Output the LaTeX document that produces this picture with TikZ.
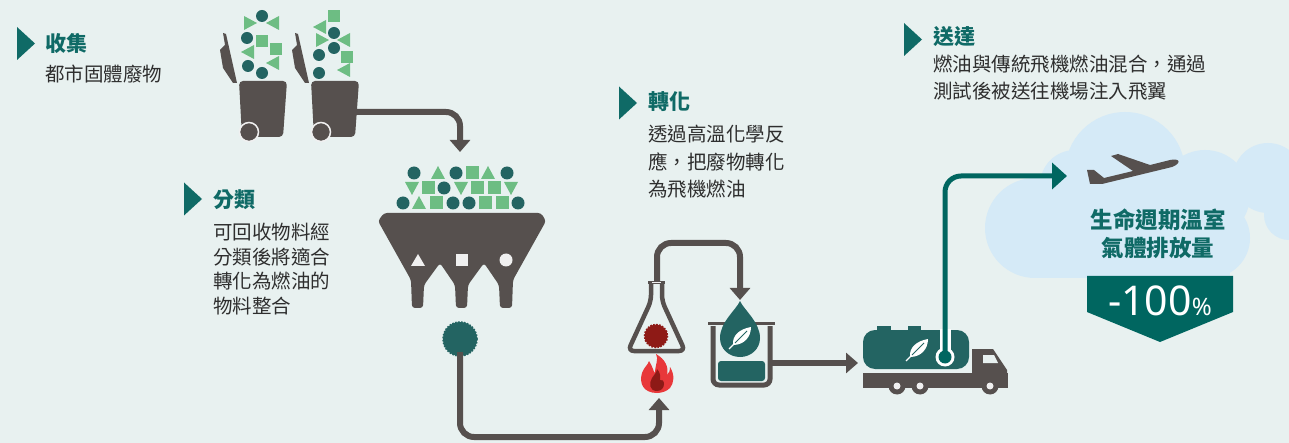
\documentclass[tikz,border=0pt]{standalone}
\usepackage{fontspec}
\setmainfont{Noto Sans CJK TC}
\newfontfamily\numfont{Noto Sans}
\usetikzlibrary{arrows.meta}

\definecolor{bgmint}{HTML}{E8F1F0}
\definecolor{titleteal}{HTML}{0F6A66}
\definecolor{dotteal}{HTML}{236462}
\definecolor{deepteal}{HTML}{006660}
\definecolor{leafgreen}{HTML}{6DBD83}
\definecolor{stonegrey}{HTML}{56504E}
\definecolor{inkgrey}{HTML}{2E2E2E}
\definecolor{flamered}{HTML}{E8383A}
\definecolor{emberred}{HTML}{8E1A16}
\definecolor{skyblue}{HTML}{D5EAF7}
\definecolor{chalk}{HTML}{F0F0F0}

% bumpy disc: colour, centre, radius
\newcommand\pellet[3]{%
  \fill[#1] #2 circle (#3);
  \draw[#1, line width=1.6pt, dash pattern=on 1.6pt off 1.4pt] #2 circle (#3);}

\tikzset{
  pipe/.style={draw=stonegrey, line width=6pt, rounded corners=14pt,
    -{Triangle[width=20pt,length=12pt]}},
  feed/.style={draw=deepteal, line width=5pt, rounded corners=16pt,
    -{Triangle[width=26pt,length=15pt]}},
  headline/.style={anchor=west, inner sep=0pt, text=titleteal,
    font=\fontsize{21}{25}\selectfont\bfseries},
  blurb/.style={anchor=north west, inner sep=0pt, align=left, text=inkgrey,
    font=\fontsize{19.5}{24.5}\selectfont},
  pointer/.pic={\fill[titleteal] (0,-16.5) -- (18,0) -- (0,16.5) -- cycle;},
  bin/.pic={
    \fill[stonegrey, rounded corners=4pt] (0,0) -- (48,0) -- (44,56) -- (3,56) -- cycle;
    \fill[stonegrey] (-16,-48) -- (-13,-47) -- (-2,2) -- (-6,2) -- (-16,-13)
      -- (-19,-31) -- (-14,-36) -- cycle;
    \fill[stonegrey] (10,51) circle (9);
    \draw[chalk, line width=1.5pt] (10,51) circle (9.5);},
  leaf/.pic={
    \fill[white] (-8,8) .. controls (-9,-2) and (-1,-8) .. (10,-10)
      .. controls (10,0) and (3,8) .. (-8,8) -- cycle;
    \draw[white, line width=1.2pt] (-12,12) -- (-6,6);
    \draw[dotteal, line width=1pt] (-6,6) -- (6,-6);},
  flame/.pic={
    \fill[flamered] (0,18) .. controls (-14,18) and (-18,8) .. (-15,-2)
      .. controls (-13,-8) and (-9,-10) .. (-8,-14)
      .. controls (-4,-8) and (-4,-4) .. (-2,-2)
      .. controls (-2,-10) and (2,-16) .. (-1,-21)
      .. controls (8,-16) and (12,-8) .. (10,0)
      .. controls (12,-2) and (13,-4) .. (13,-8)
      .. controls (18,0) and (17,8) .. (13,13)
      .. controls (10,16) and (5,18) .. (0,18) -- cycle;
    \fill[emberred] (0,16) .. controls (-8,16) and (-8,8) .. (-5,3)
      .. controls (-3,0) and (0,-3) .. (0,-6)
      .. controls (4,-2) and (3,2) .. (3,5)
      .. controls (5,4) and (7,6) .. (7,9)
      .. controls (7,13) and (4,16) .. (0,16) -- cycle;}
}

\begin{document}
\begin{tikzpicture}[x=1pt, y=-1pt]
\fill[bgmint] (0,0) rectangle (1289,443);
\useasboundingbox (0,0) rectangle (1289,443);

% headings
\pic at (17,43.5) {pointer};
\node[headline] (collect) at (45,43) {收集};
\node[blurb] (collectnote) at (45,65) {都市固體廢物};
\pic at (184,199) {pointer};
\node[headline] (sort) at (213,200) {分類};
\node[blurb] (sortnote) at (213,223) {可回收物料經\\分類後將適合\\轉化為燃油的\\物料整合};
\pic at (619,103) {pointer};
\node[headline] (convert) at (648,102) {轉化};
\node[blurb, font=\fontsize{19.5}{27.5}\selectfont] (convertnote) at (648,125)
  {透過高溫化學反\\應，把廢物轉化\\為飛機燃油};
\pic at (904,39.5) {pointer};
\node[headline] (deliver) at (933,37) {送達};
\node[blurb, font=\fontsize{19.5}{27}\selectfont] (delivernote) at (933,55)
  {燃油與傳統飛機燃油混合，通過\\測試後被送往機場注入飛翼};

% bins
\pic at (239,81) {bin};
\pic at (311,81) {bin};
\foreach \x/\y in {262/16,247/38,248/66,262/73,334/33,334/48,319/55,319/73}
  \fill[dotteal] (\x,\y) circle (6);
\foreach \x/\y in {262/41,276/49,334/16,347/57}
  \fill[leafgreen] (\x-6,\y-6) rectangle (\x+6,\y+6);
\foreach \x/\y in {273/23,248/52,273/63,320/27,344/40,344/70}
  \fill[leafgreen] (\x-7,\y) -- (\x+6,\y-7) -- (\x+6,\y+7) -- cycle;
\foreach \x/\y in {250/23,322/40}
  \fill[leafgreen] (\x+7,\y) -- (\x-6,\y-7) -- (\x-6,\y+7) -- cycle;

% hopper with its pile
\foreach \x/\y in {414/173,456/173,507/173,444/188,403/203,453/203,469/203,518/203}
  \fill[dotteal] (\x,\y) circle (6.5);
\foreach \x/\y in {472/173,428/188,477/188,494/188,436/203,485/203,502/203}
  \fill[leafgreen] (\x-6.5,\y-6.5) rectangle (\x+6.5,\y+6.5);
\foreach \x/\y in {438/173,488/173,419/203}
  \fill[leafgreen] (\x,\y-7) -- (\x+7,\y+6) -- (\x-7,\y+6) -- cycle;
\foreach \x/\y in {412/188,461/188,511/188}
  \fill[leafgreen] (\x,\y+7) -- (\x+7,\y-6) -- (\x-7,\y-6) -- cycle;
\fill[stonegrey, rounded corners=3pt] (384,213) -- (541,213) -- (546,221) -- (513,280)
  -- (512,308) -- (500,308) -- (499,285) -- (484,263) -- (468,285) -- (467,308)
  -- (456,308) -- (455,285) -- (440,263) -- (424,285) -- (423,308) -- (412,308)
  -- (411,280) -- (378,221) -- cycle;
\fill[chalk] (418,254) -- (425,266) -- (411,266) -- cycle;
\fill[chalk] (456,254) rectangle (468,266);
\fill[chalk] (506,260) circle (6.5);

\pellet{dotteal}{(460,339)}{17}

% reactor flask and burner
\draw[stonegrey, line width=4.5pt, rounded corners=6pt] (651,284) -- (651,301)
  -- (628,351) -- (685,351) -- (662,301) -- (662,284);
\draw[stonegrey, line width=3pt] (648,283) -- (665,283);
\draw[chalk, line width=1pt] (652,283) -- (661,283);
\pellet{emberred}{(656,336)}{11.5}
\pic at (657,375) {flame};

% beaker with drop
\draw[stonegrey, line width=5pt, rounded corners=6pt] (713,326) -- (713,385)
  -- (770,385) -- (770,326);
\draw[stonegrey, line width=3pt] (708,323) -- (775,323);
\fill[dotteal, rounded corners=3pt] (718,361) rectangle (765,381);
\fill[dotteal] (740,301) .. controls (744,310) and (760,322) .. (760,338)
  .. controls (760,349) and (751,357) .. (740,357)
  .. controls (729,357) and (720,349) .. (720,338)
  .. controls (720,322) and (736,310) .. (740,301) -- cycle;
\pic at (741,337) {leaf};

% tanker truck
\fill[dotteal] (877,326) rectangle (891,332);
\fill[dotteal] (908,326) rectangle (921,332);
\fill[dotteal, rounded corners=12pt] (863,330) rectangle (969,369);
\pic at (918,349) {leaf};
\fill[stonegrey] (863,373) rectangle (1008,388);
\fill[stonegrey] (972,349) -- (993,349) -- (1007,370) -- (1007,375) -- (972,375) -- cycle;
\fill[bgmint] (983,355) -- (994,355) -- (998,363) -- (983,363) -- cycle;
\foreach \x in {897,920,990} {
  \fill[stonegrey] (\x,386) circle (8.5);
  \fill[chalk] (\x,386) circle (3.5);
}
\fill[white] (939.5,329) rectangle (950.5,357);
\fill[white] (945,357) circle (9.5);
\fill[deepteal] (945,357) circle (6.5);

% cloud, plane and result
\fill[skyblue] (1035,228) circle (50) (1125,172) circle (60) (1075,185) circle (35)
  (1205,195) circle (45) (1268,178) circle (35) (1150,235) circle (44)
  (1210,238) circle (40) (1289,215) circle (25);
\fill[skyblue] (1035,200) rectangle (1230,278);
\fill[stonegrey] (1087,170) -- (1094,170) -- (1104,178) -- (1133,171) -- (1111,156)
  -- (1118,154) -- (1150,165) -- (1170,160) .. controls (1180,158) and (1182,163) .. (1172,167)
  -- (1102,184) -- (1090,184) -- cycle;
\node[inner sep=0pt, align=center, text=titleteal,
  font=\fontsize{22.5}{28}\selectfont\bfseries] (ghg) at (1158,234)
  {生命週期溫室\\氣體排放量};
\fill[deepteal] (1087,276) -- (1233,276) -- (1233,312) -- (1160,342) -- (1087,312) -- cycle;
\node[inner sep=0pt, text=white] (cut) at (1160,301)
  {\numfont\fontsize{41}{41}\selectfont -100{\fontsize{24}{24}\selectfont\%}};

% flow
\coordinate (binout) at (355,112);
\coordinate (hopperin) at (460,152);
\coordinate (gearout) at (460,352);
\coordinate (lowbend) at (659,437);
\coordinate (burnerin) at (659,398);
\coordinate (flasktop) at (657,281);
\coordinate (highbend) at (740,243);
\coordinate (beakerin) at (740,300);
\coordinate (beakerout) at (772,363);
\coordinate (truckin) at (858,363);
\coordinate (thermo) at (945,357);
\coordinate (planein) at (1067,176);

\draw[pipe] (binout) -| (hopperin);
\draw[pipe] (gearout) |- (lowbend) -- (burnerin);
\draw[pipe] (flasktop) |- (highbend) -- (beakerin);
\draw[pipe, rounded corners=0pt] (beakerout) -- (truckin);
\draw[feed] (thermo) |- (planein);
\end{tikzpicture}
\end{document}
